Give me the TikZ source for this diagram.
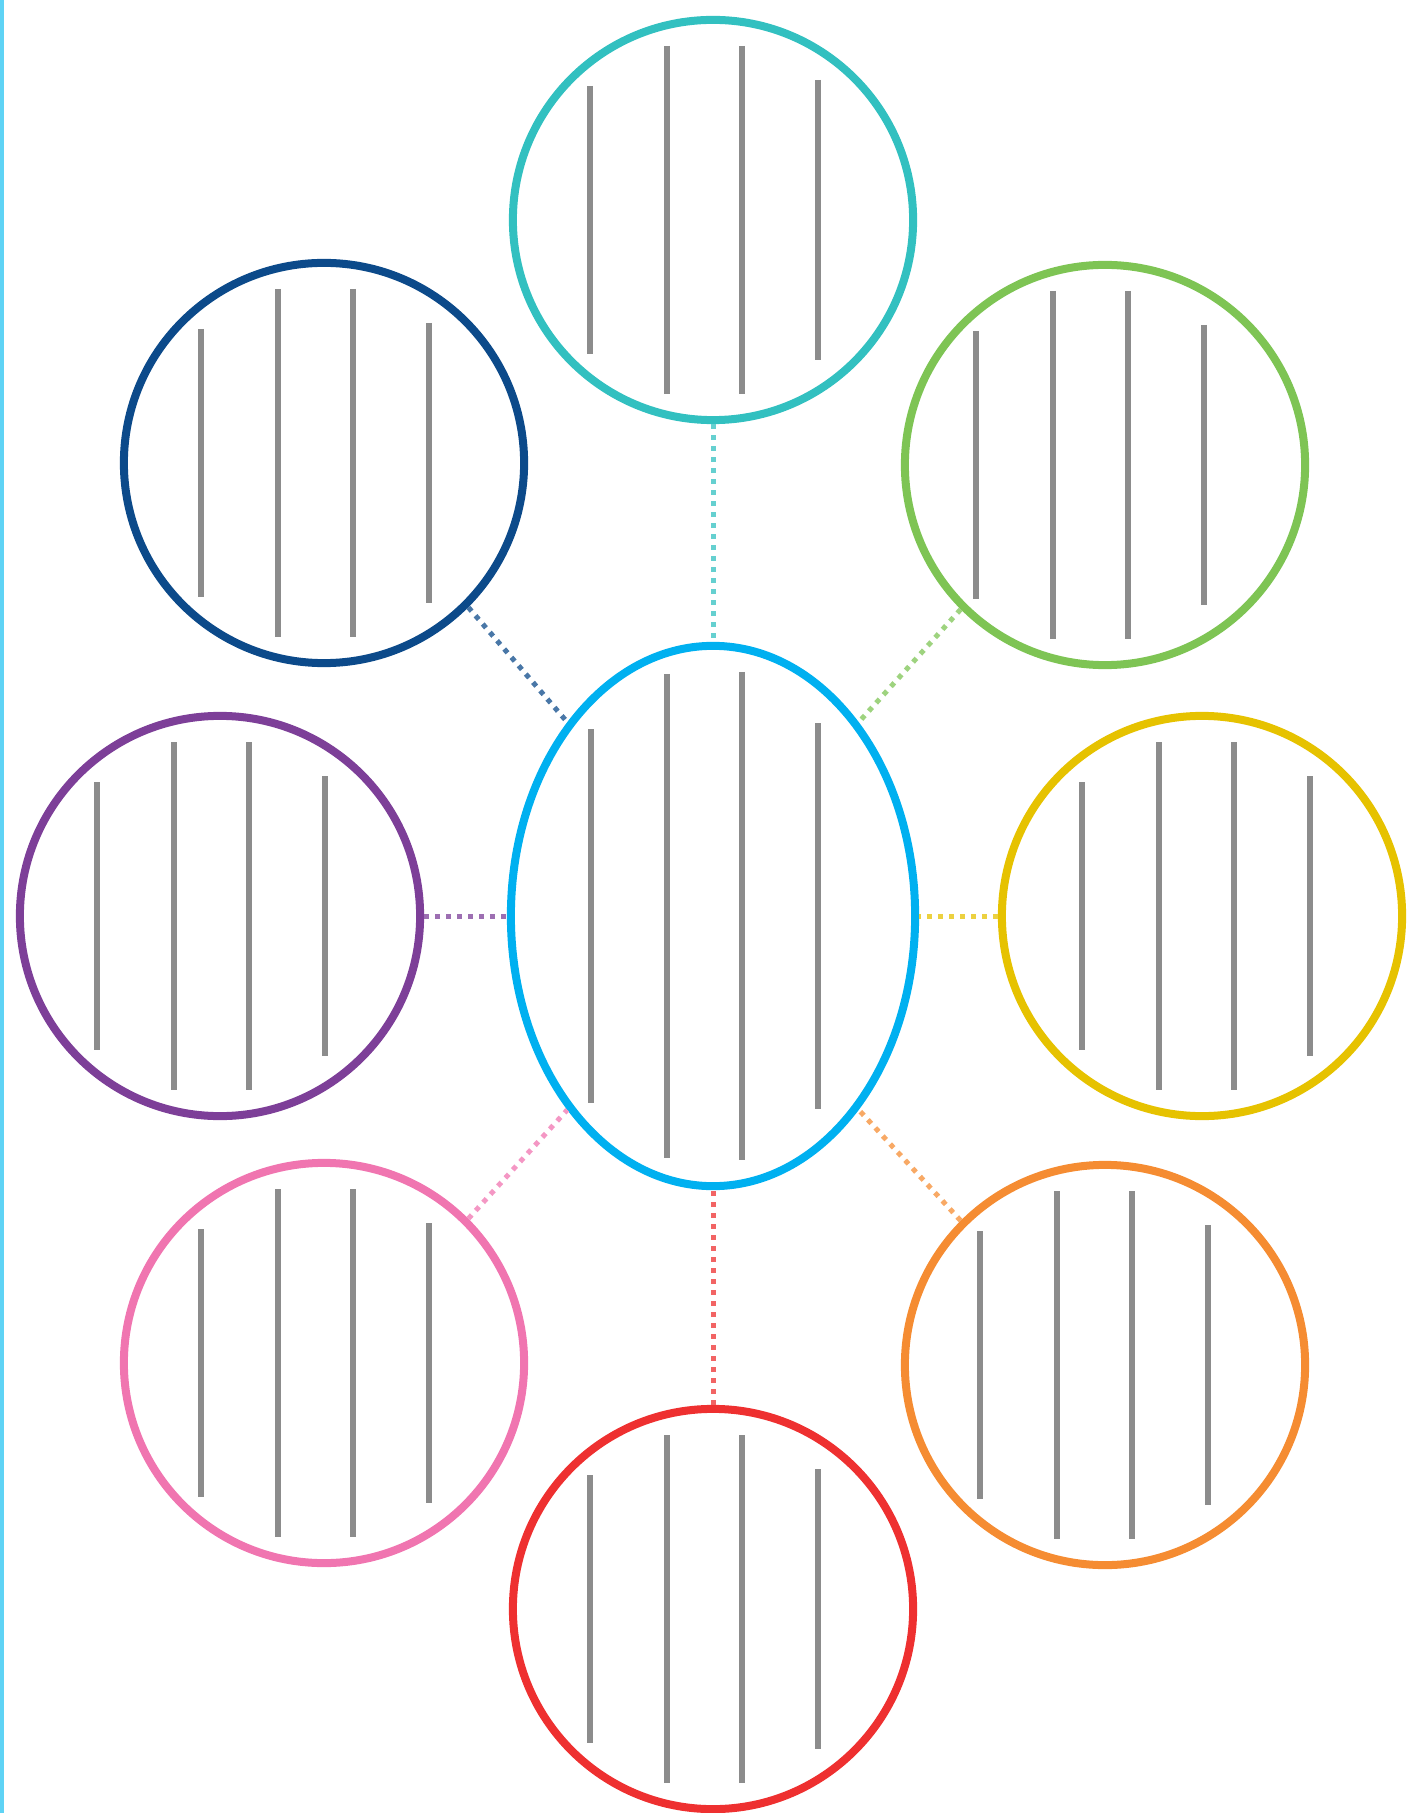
\documentclass[tikz,border=0pt]{standalone}
\usepackage{xcolor}
\usepackage{tikz}
\usetikzlibrary{shapes.geometric, calc}

\definecolor{hubblue}{RGB}{0,176,240}
\definecolor{tealc}{RGB}{50,192,192}
\definecolor{navy}{RGB}{12,74,138}
\definecolor{leafgreen}{RGB}{126,196,84}
\definecolor{plum}{RGB}{125,63,152}
\definecolor{gold}{RGB}{230,194,0}
\definecolor{rose}{RGB}{240,117,176}
\definecolor{tangerine}{RGB}{245,140,50}
\definecolor{scarlet}{RGB}{238,48,48}
\definecolor{rulegray}{RGB}{140,140,140}
\definecolor{edgeblue}{RGB}{95,211,245}

\begin{document}
\begin{tikzpicture}[
      x=0.01cm, y=-0.01cm,
      bubble/.style={circle, draw=#1, line width=0.8mm, minimum size=4cm, inner sep=0pt},
      hub/.style={ellipse, draw=hubblue, line width=0.8mm, minimum width=4.04cm, minimum height=5.4cm, inner sep=0pt},
      link/.style={draw=#1!75, line width=0.5mm, dash pattern=on 0.5mm off 0.6mm},
      rule/.style={draw=rulegray, line width=0.55mm},
    ]
    \useasboundingbox (0,0) rectangle (1407,1813);
    \fill[edgeblue] (0,0) rectangle (4,1813);

    \node[hub] (hub) at (713,916) {};
    \node[bubble=tealc] (top) at (713,220) {};
    \node[bubble=navy] (nw) at (324,463) {};
    \node[bubble=leafgreen] (ne) at (1105,465) {};
    \node[bubble=plum] (west) at (220,916) {};
    \node[bubble=gold] (east) at (1202,916) {};
    \node[bubble=rose] (sw) at (324,1363) {};
    \node[bubble=tangerine] (se) at (1105,1365) {};
    \node[bubble=scarlet] (bottom) at (713,1609) {};

    % writing lines
    \foreach \n/\s in {top/0,nw/0,ne/-6,west/0,east/3,sw/0,se/-2,bottom/0}
      \foreach \dx/\h in {-123/134,-46/174,29/174,105/140}
        \draw[rule] ($(\n)+(\dx+\s,-\h)$) -- ($(\n)+(\dx+\s,\h)$);
    \foreach \dx/\h in {-122/187,-46/242,29/244,105/193}
      \draw[rule] ($(hub)+(\dx,-\h)$) -- ($(hub)+(\dx,\h)$);

    \draw[link=tealc] (top.south) -- (hub.north);
    \draw[link=navy] (nw.south east) -- (hub.north west);
    \draw[link=leafgreen] (ne.south west) -- (hub.north east);
    \draw[link=plum] (west.east) -- (hub.west);
    \draw[link=gold] (east.west) -- (hub.east);
    \draw[link=rose] (sw.north east) -- (hub.south west);
    \draw[link=tangerine] (se.north west) -- (hub.south east);
    \draw[link=scarlet] (bottom.north) -- (hub.south);
  \end{tikzpicture}
\end{document}
